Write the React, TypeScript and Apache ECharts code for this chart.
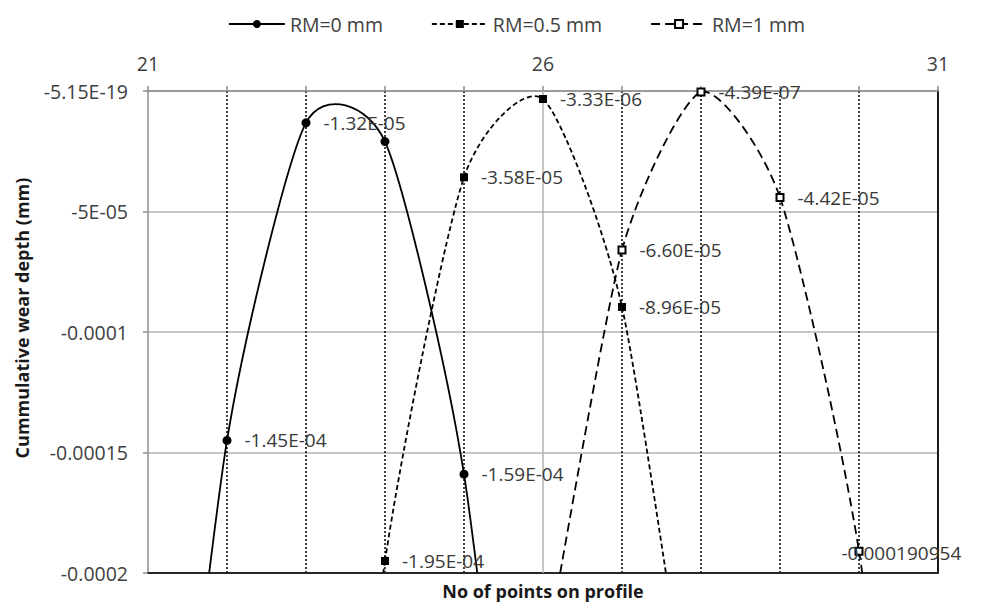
import React, { useEffect, useRef } from "react";
import * as echarts from "echarts";

const seriesNames = ["RM=0 mm", "RM=0.5 mm", "RM=1 mm"];

const rm0X = [21, 22, 23, 24, 25, 26];
const rm0Y = [-4.15e-4, -1.45e-4, -1.32e-5, -2.1e-5, -1.59e-4, -4.35e-4];
const rm0Labels = ["", "-1.45E-04", "-1.32E-05", "", "-1.59E-04", ""];

const rm05X = [23, 24, 25, 26, 27, 28];
const rm05Y = [-4.74e-4, -1.95e-4, -3.58e-5, -3.33e-6, -8.96e-5, -2.97e-4];
const rm05Labels = ["", "-1.95E-04", "-3.58E-05", "-3.33E-06", "-8.96E-05", ""];

const rm1X = [26, 27, 28, 29, 30, 31];
const rm1Y = [-2.4e-4, -6.6e-5, -4.39e-7, -4.42e-5, -1.90954e-4, -4.58e-4];
const rm1Labels = ["", "-6.60E-05", "-4.39E-07", "-4.42E-05", "-0.000190954", ""];

const xMajorTicks = [21, 26, 31];
const yTickValues = [0, -5e-5, -1e-4, -1.5e-4, -2e-4];
const yTickLabels = ["-5.15E-19", "-5E-05", "-0.0001", "-0.00015", "-0.0002"];

const FONT = "Open Sans";
const DASHES: any[] = ["solid", [5, 3], [9, 5]];
const LINE_W = 1.8;
const TENSION = 0.11;

function buildData(xs: number[], ys: number[], labels: string[], offsetIdx: number | null) {
  return xs.map((x, i) => ({
    value: [x, ys[i]],
    label: {
      show: labels[i] !== "",
      formatter: labels[i],
      ...(offsetIdx === i ? { offset: [-35, 2] } : {}),
    },
  }));
}

// Smooth (Catmull-Rom style) curve drawn segment by segment through the chart's coordinate system
function curveSeries(name: string, xs: number[], ys: number[], dash: any) {
  const n = xs.length;
  return {
    type: "custom",
    name: name + " curve",
    clip: true,
    silent: true,
    z: 2,
    data: xs.map((x, i) => [x, ys[i]]),
    encode: { x: 0, y: 1 },
    renderItem: (params: any, api: any) => {
      const i = params.dataIndex;
      if (i >= n - 1) return null;
      const c = (k: number) => {
        const kk = Math.max(0, Math.min(n - 1, k));
        return api.coord([xs[kk], ys[kk]]);
      };
      const p0 = c(i - 1), p1 = c(i), p2 = c(i + 1), p3 = c(i + 2);
      const cp1 = [p1[0] + (p2[0] - p0[0]) * TENSION, p1[1] + (p2[1] - p0[1]) * TENSION];
      const cp2 = [p2[0] - (p3[0] - p1[0]) * TENSION, p2[1] - (p3[1] - p1[1]) * TENSION];
      return {
        type: "bezierCurve",
        shape: {
          x1: p1[0], y1: p1[1], x2: p2[0], y2: p2[1],
          cpx1: cp1[0], cpy1: cp1[1], cpx2: cp2[0], cpy2: cp2[1],
        },
        style: {
          stroke: "#000",
          fill: "none",
          lineWidth: LINE_W,
          lineDash: dash === "solid" ? null : dash,
        },
      };
    },
  };
}

export default function App() {
  const ref = useRef<HTMLDivElement>(null);
  useEffect(() => {
    if (!ref.current) return;
    const chart = echarts.init(ref.current, undefined, { renderer: "svg" });
    const labelStyle = {
      position: "right",
      distance: 13,
      fontFamily: FONT,
      fontSize: 19,
      color: "#383838",
    };
    const markerSeries = (idx: number, xs: number[], ys: number[], labels: string[], symbol: string, size: number, offsetIdx: number | null, extra: any = {}) => ({
      name: seriesNames[idx],
      type: "line",
      smooth: false,
      clip: true,
      z: 3,
      symbol,
      symbolSize: size,
      itemStyle: { color: "#000", borderWidth: 1.2 },
      lineStyle: { color: "#000", width: LINE_W, type: DASHES[idx], opacity: 0 },
      label: labelStyle,
      data: buildData(xs, ys, labels, offsetIdx),
      ...extra,
    });
    const option: any = {
      animation: false,
      backgroundColor: "#fff",
      textStyle: { fontFamily: FONT },
      legend: {
        top: 9,
        left: 223,
        itemWidth: 56,
        itemHeight: 10,
        itemGap: 48,
        textStyle: { fontFamily: FONT, fontSize: 19.5, color: "#404040" },
        data: seriesNames.map((nm, i) => ({
          name: nm,
          lineStyle: { color: "#000", width: LINE_W, type: DASHES[i], opacity: 1 },
        })),
      },
      grid: { left: 148, right: 48, top: 91, bottom: 33, containLabel: false, outerBoundsMode: "none" },
      xAxis: [
        {
          type: "value",
          position: "top",
          min: 21,
          max: 31,
          interval: 1,
          axisLine: { show: true, onZero: false, lineStyle: { color: "#8c8c8c", width: 1.5 } },
          axisTick: { show: true, length: 5, lineStyle: { color: "#8c8c8c", width: 1.5 } },
          axisLabel: {
            margin: 18,
            fontFamily: FONT,
            fontSize: 19.5,
            color: "#404040",
            formatter: (v: number) => (xMajorTicks.includes(Math.round(v)) ? String(Math.round(v)) : ""),
          },
          splitLine: {
            show: true,
            lineStyle: {
              color: ["rgba(0,0,0,0)", "#000", "#000", "#000", "#000"],
              type: [2, 2],
              width: 1.5,
            },
          },
        },
        {
          type: "value",
          position: "bottom",
          min: 21,
          max: 31,
          interval: 1,
          name: "No of points on profile",
          nameLocation: "middle",
          nameGap: 9,
          nameTextStyle: { fontFamily: FONT, fontSize: 18, fontWeight: "bold", color: "#1a1a1a" },
          axisLine: { show: true, onZero: false, lineStyle: { color: "#262626", width: 2 } },
          axisTick: { show: false },
          axisLabel: { show: false },
          splitLine: { show: false },
        },
      ],
      yAxis: [
        {
          type: "value",
          position: "left",
          min: -0.0002,
          max: 0,
          interval: 0.00005,
          name: "Cummulative wear depth (mm)",
          nameLocation: "middle",
          nameGap: 117,
          nameTextStyle: {
            fontFamily: FONT,
            fontSize: 18,
            fontWeight: "bold",
            color: "#1a1a1a",
            padding: [0, 0, 0, 28],
          },
          axisLine: { show: true, onZero: false, lineStyle: { color: "#8c8c8c", width: 1.5 } },
          axisTick: { show: true, length: 5, lineStyle: { color: "#8c8c8c", width: 1.5 } },
          axisLabel: {
            margin: 20,
            fontFamily: FONT,
            fontSize: 19.5,
            color: "#404040",
            formatter: (v: number) => {
              const idx = yTickValues.findIndex((t) => Math.abs(t - v) < 1e-9);
              return idx >= 0 ? yTickLabels[idx] : "";
            },
          },
          splitLine: { show: true, lineStyle: { color: "#b3b3b3", width: 1.5 } },
        },
        {
          type: "value",
          position: "right",
          min: -0.0002,
          max: 0,
          interval: 0.00005,
          axisLine: { show: true, onZero: false, lineStyle: { color: "#1a1a1a", width: 2 } },
          axisTick: { show: false },
          axisLabel: { show: false },
          splitLine: { show: false },
        },
      ],
      series: [
        curveSeries(seriesNames[0], rm0X, rm0Y, DASHES[0]),
        curveSeries(seriesNames[1], rm05X, rm05Y, DASHES[1]),
        curveSeries(seriesNames[2], rm1X, rm1Y, DASHES[2]),
        markerSeries(0, rm0X, rm0Y, rm0Labels, "circle", 9, null, {
          markLine: {
            silent: true,
            z: 1,
            symbol: "none",
            label: { show: false },
            lineStyle: { color: "#b3b3b3", type: "solid", width: 1.5, opacity: 1 },
            data: [{ xAxis: xMajorTicks[1] }],
          },
        }),
        markerSeries(1, rm05X, rm05Y, rm05Labels, "rect", 8, null),
        markerSeries(2, rm1X, rm1Y, rm1Labels, "emptyRect", 7, 4),
      ],
    };
    chart.setOption(option);
    return () => chart.dispose();
  }, []);
  return (
    <div
      ref={ref}
      style={{ position: "absolute", left: 0, top: 0, width: 986, height: 606, background: "#fff" }}
    />
  );
}
